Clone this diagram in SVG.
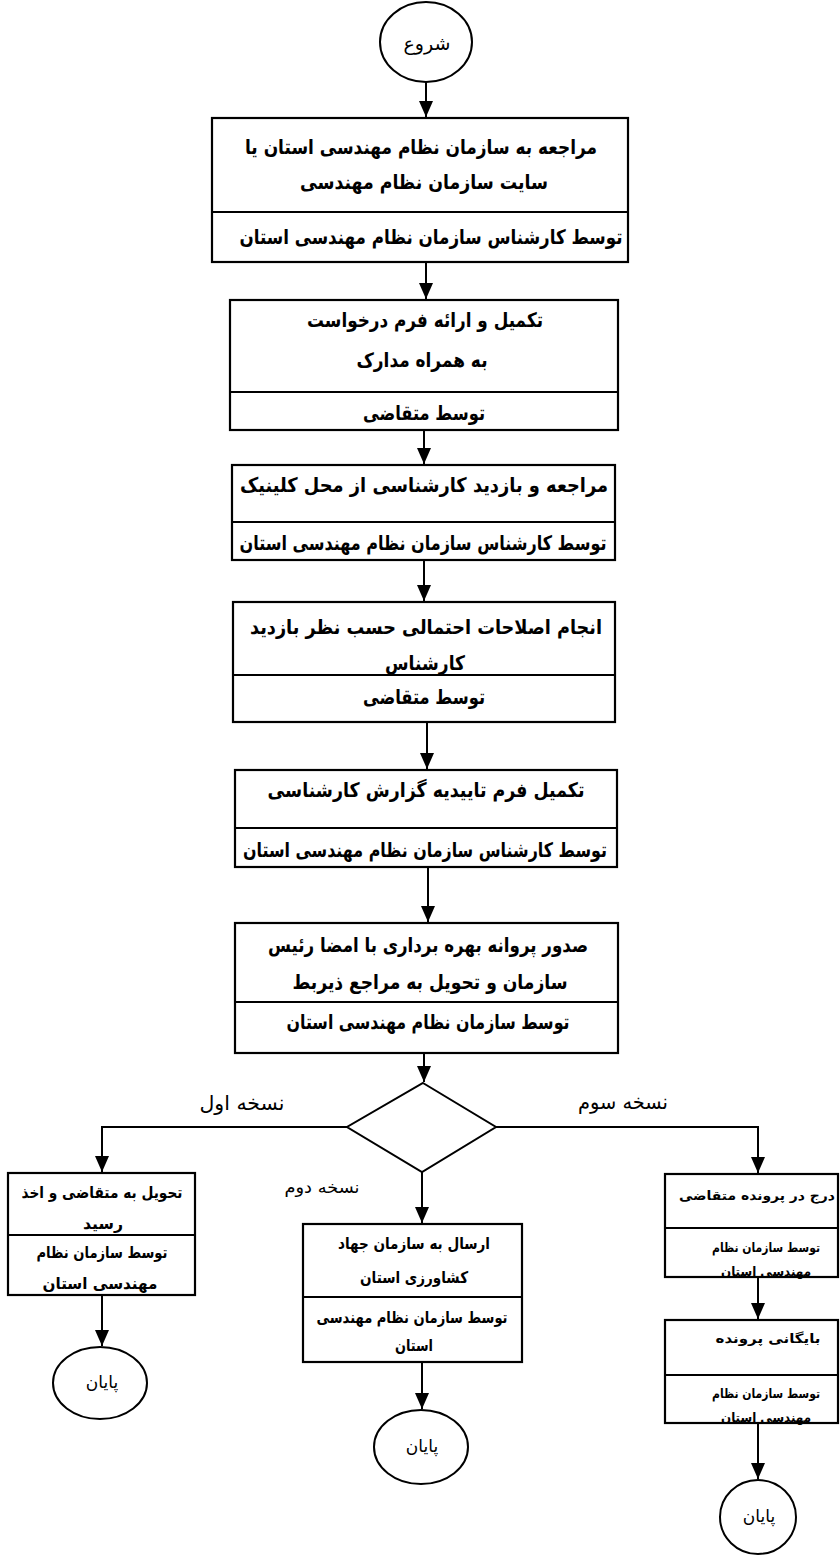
<svg xmlns="http://www.w3.org/2000/svg" width="840" height="1556" viewBox="0 0 840 1556">
<style>
.box{fill:#fff;stroke:#000;stroke-width:2.2}
.div{stroke:#000;stroke-width:1.8;fill:none}
.term{fill:#fff;stroke:#000;stroke-width:2}
.con{stroke:#000;stroke-width:2;fill:none}
.t{font-family:"DejaVu Sans",sans-serif;font-weight:bold;font-size:20px;text-anchor:middle;dominant-baseline:central;fill:#000}
.s{font-family:"DejaVu Sans",sans-serif;font-weight:bold;font-size:16px;text-anchor:middle;dominant-baseline:central;fill:#000}
.r{font-family:"DejaVu Sans",sans-serif;font-weight:bold;font-size:13px;text-anchor:middle;dominant-baseline:central;fill:#000}
.l{font-family:"DejaVu Sans",sans-serif;font-size:20px;text-anchor:middle;dominant-baseline:central;fill:#000}
.e{font-family:"DejaVu Sans",sans-serif;font-size:19px;text-anchor:middle;dominant-baseline:central;fill:#000}
</style>
<defs>
<marker id="ah" markerUnits="userSpaceOnUse" markerWidth="16" markerHeight="14" refX="16" refY="7" orient="auto">
<path d="M0,0 L16,7 L0,14 z" fill="#000"/>
</marker>
</defs>
<rect width="840" height="1556" fill="#fff"/>

<g id="connectors">
<line class="con" x1="426" y1="82" x2="426" y2="117" marker-end="url(#ah)"/>
<line class="con" x1="426" y1="262" x2="426" y2="299" marker-end="url(#ah)"/>
<line class="con" x1="424" y1="430" x2="424" y2="464" marker-end="url(#ah)"/>
<line class="con" x1="424" y1="560" x2="424" y2="601" marker-end="url(#ah)"/>
<line class="con" x1="427" y1="722" x2="427" y2="769" marker-end="url(#ah)"/>
<line class="con" x1="428" y1="867" x2="428" y2="922" marker-end="url(#ah)"/>
<line class="con" x1="424" y1="1053" x2="424" y2="1082" marker-end="url(#ah)"/>
<polyline class="con" points="347,1127 102,1127 102,1172" marker-end="url(#ah)"/>
<polyline class="con" points="496,1127 758,1127 758,1173" marker-end="url(#ah)"/>
<line class="con" x1="422" y1="1172" x2="422" y2="1223" marker-end="url(#ah)"/>
<line class="con" x1="102" y1="1295" x2="102" y2="1346" marker-end="url(#ah)"/>
<line class="con" x1="422" y1="1362" x2="422" y2="1409" marker-end="url(#ah)"/>
<line class="con" x1="758" y1="1277" x2="758" y2="1319" marker-end="url(#ah)"/>
<line class="con" x1="758" y1="1423" x2="758" y2="1479" marker-end="url(#ah)"/>
<text class="l" x="242" y="1103" textLength="85" lengthAdjust="spacingAndGlyphs">نسخه اول</text>
<text class="l" x="623" y="1102" textLength="90" lengthAdjust="spacingAndGlyphs">نسخه سوم</text>
<text class="l" x="322" y="1187" style="font-size:17px" textLength="75" lengthAdjust="spacingAndGlyphs">نسخه دوم</text>
</g>

<g id="start">
<ellipse class="term" cx="426" cy="42" rx="46" ry="40"/>
<text class="e" x="427" y="43">شروع</text>
</g>

<g id="box1">
<rect class="box" x="212" y="118" width="416" height="144"/>
<line class="div" x1="212" y1="212" x2="628" y2="212"/>
<text class="t" x="421" y="147" textLength="352" lengthAdjust="spacingAndGlyphs">مراجعه به سازمان نظام مهندسی استان یا</text>
<text class="t" x="424" y="182" textLength="248" lengthAdjust="spacingAndGlyphs">سایت سازمان نظام مهندسی</text>
<text class="t" x="431" y="237" textLength="383" lengthAdjust="spacingAndGlyphs">توسط کارشناس سازمان نظام مهندسی استان</text>
</g>

<g id="box2">
<rect class="box" x="230" y="300" width="388" height="130"/>
<line class="div" x1="230" y1="392" x2="618" y2="392"/>
<text class="t" x="425" y="320" textLength="236" lengthAdjust="spacingAndGlyphs">تکمیل و ارائه فرم درخواست</text>
<text class="t" x="422" y="360" textLength="131" lengthAdjust="spacingAndGlyphs">به همراه مدارک</text>
<text class="t" x="424" y="413" textLength="122" lengthAdjust="spacingAndGlyphs">توسط متقاضی</text>
</g>

<g id="box3">
<rect class="box" x="232" y="465" width="383" height="95"/>
<line class="div" x1="232" y1="522" x2="615" y2="522"/>
<text class="t" x="424" y="485" textLength="368" lengthAdjust="spacingAndGlyphs">مراجعه و بازدید کارشناسی از محل کلینیک</text>
<text class="t" x="423" y="543" textLength="367" lengthAdjust="spacingAndGlyphs">توسط کارشناس سازمان نظام مهندسی استان</text>
</g>

<g id="box4">
<rect class="box" x="233" y="602" width="382" height="120"/>
<line class="div" x1="233" y1="675" x2="615" y2="675"/>
<text class="t" x="426" y="627" textLength="352" lengthAdjust="spacingAndGlyphs">انجام اصلاحات احتمالی حسب نظر بازدید</text>
<text class="t" x="425" y="663" textLength="80" lengthAdjust="spacingAndGlyphs">کارشناس</text>
<text class="t" x="424" y="697" textLength="122" lengthAdjust="spacingAndGlyphs">توسط متقاضی</text>
</g>

<g id="box5">
<rect class="box" x="235" y="770" width="382" height="97"/>
<line class="div" x1="235" y1="828" x2="617" y2="828"/>
<text class="t" x="426" y="790" textLength="317" lengthAdjust="spacingAndGlyphs">تکمیل فرم تاییدیه گزارش کارشناسی</text>
<text class="t" x="425" y="850" textLength="364" lengthAdjust="spacingAndGlyphs">توسط کارشناس سازمان نظام مهندسی استان</text>
</g>

<g id="box6">
<rect class="box" x="235" y="923" width="383" height="130"/>
<line class="div" x1="235" y1="1002" x2="618" y2="1002"/>
<text class="t" x="428" y="945" textLength="320" lengthAdjust="spacingAndGlyphs">صدور پروانه بهره برداری با امضا رئیس</text>
<text class="t" x="430" y="982" textLength="275" lengthAdjust="spacingAndGlyphs">سازمان و تحویل به مراجع ذیربط</text>
<text class="t" x="428" y="1022" textLength="283" lengthAdjust="spacingAndGlyphs">توسط سازمان نظام مهندسی استان</text>
</g>

<g id="decision">
<polygon class="term" points="423,1083 496,1127 422,1172 347,1127"/>
</g>

<g id="box-left">
<rect class="box" x="8" y="1173" width="187" height="122"/>
<line class="div" x1="8" y1="1235" x2="195" y2="1235"/>
<text class="s" x="102" y="1192" textLength="161" lengthAdjust="spacingAndGlyphs">تحویل به متقاضی و اخذ</text>
<text class="s" x="103" y="1223" textLength="40" lengthAdjust="spacingAndGlyphs">رسید</text>
<text class="s" x="102" y="1252" textLength="131" lengthAdjust="spacingAndGlyphs">توسط سازمان نظام</text>
<text class="s" x="100" y="1283" textLength="115" lengthAdjust="spacingAndGlyphs">مهندسی استان</text>
</g>

<g id="box-middle">
<rect class="box" x="303" y="1224" width="219" height="138"/>
<line class="div" x1="303" y1="1297" x2="522" y2="1297"/>
<text class="s" x="414" y="1243" textLength="152" lengthAdjust="spacingAndGlyphs">ارسال به سازمان جهاد</text>
<text class="s" x="414" y="1277" textLength="108" lengthAdjust="spacingAndGlyphs">کشاورزی استان</text>
<text class="s" x="412" y="1317" textLength="191" lengthAdjust="spacingAndGlyphs">توسط سازمان نظام مهندسی</text>
<text class="s" x="414" y="1345" textLength="38" lengthAdjust="spacingAndGlyphs">استان</text>
</g>

<g id="box-right1">
<rect class="box" x="665" y="1174" width="173" height="103"/>
<line class="div" x1="665" y1="1228" x2="838" y2="1228"/>
<text class="r" x="757" y="1195" textLength="156" lengthAdjust="spacingAndGlyphs">درج در پرونده متقاضی</text>
<text class="r" x="766" y="1247" textLength="108" lengthAdjust="spacingAndGlyphs">توسط سازمان نظام</text>
<text class="r" x="766" y="1271" textLength="90" lengthAdjust="spacingAndGlyphs">مهندسی استان</text>
</g>

<g id="box-right2">
<rect class="box" x="665" y="1320" width="173" height="103"/>
<line class="div" x1="665" y1="1375" x2="838" y2="1375"/>
<text class="r" x="768" y="1338" textLength="105" lengthAdjust="spacingAndGlyphs">بایگانی پرونده</text>
<text class="r" x="766" y="1393" textLength="108" lengthAdjust="spacingAndGlyphs">توسط سازمان نظام</text>
<text class="r" x="766" y="1417" textLength="90" lengthAdjust="spacingAndGlyphs">مهندسی استان</text>
</g>

<g id="end-left">
<ellipse class="term" cx="100" cy="1383" rx="47" ry="36"/>
<text class="e" x="102" y="1382" style="font-size:17px">پایان</text>
</g>
<g id="end-middle">
<ellipse class="term" cx="421" cy="1447" rx="47" ry="37"/>
<text class="e" x="422" y="1446" style="font-size:17px">پایان</text>
</g>
<g id="end-right">
<ellipse class="term" cx="758" cy="1517" rx="38" ry="37"/>
<text class="e" x="759" y="1516" style="font-size:17px">پایان</text>
</g>
</svg>
